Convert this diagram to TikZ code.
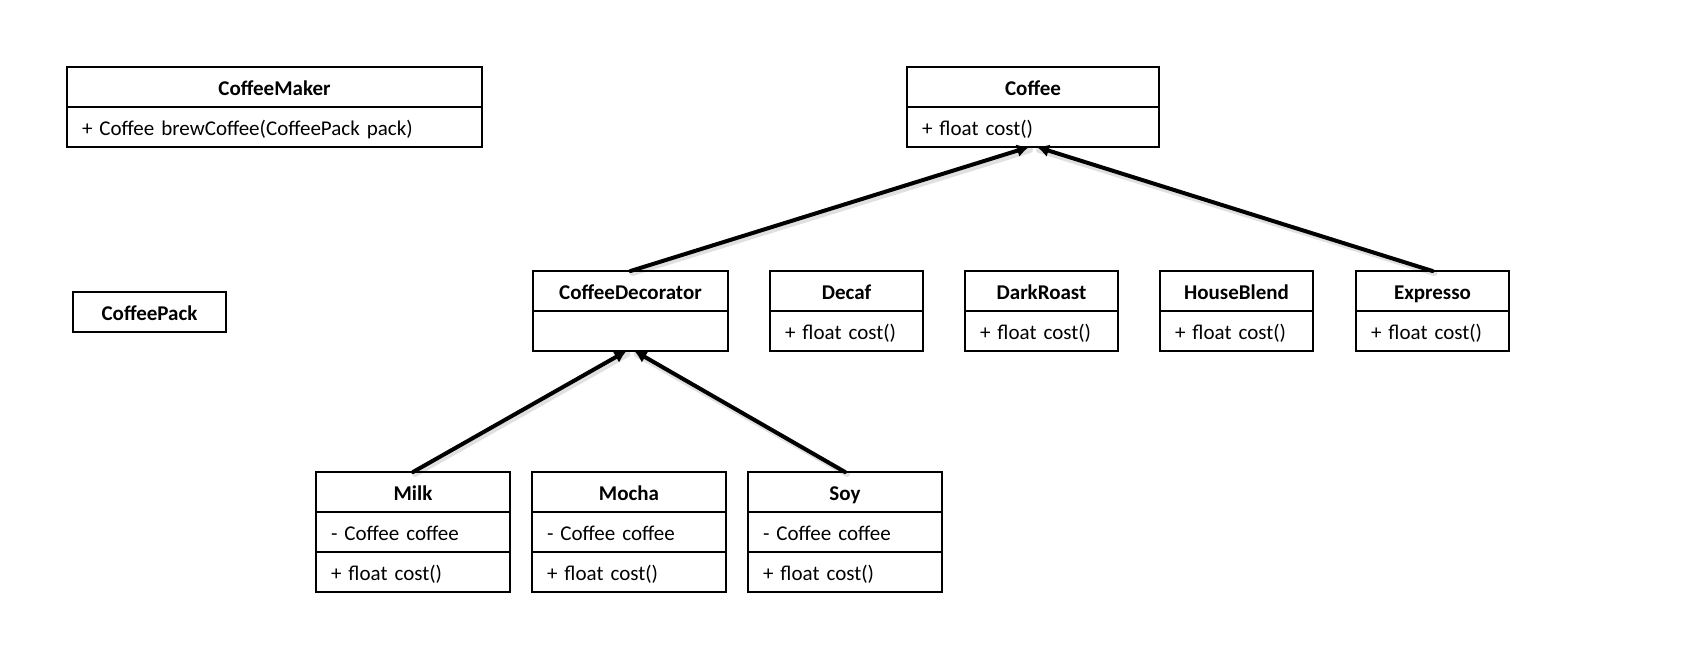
\documentclass[tikz,border=0pt]{standalone}
\usepackage{fontspec}
\setmainfont{Carlito}
\usetikzlibrary{arrows.meta}
\begin{document}
\begin{tikzpicture}[x=1pt,y=-1pt,
  box/.style={draw, line width=1.9pt, inner sep=0pt, outer sep=0pt,
    minimum height=40pt, text height=18pt, text depth=2pt, anchor=north west},
  classname/.style={box, font=\fontsize{21}{24}\selectfont\bfseries, align=center},
  member/.style={box, font=\fontsize{21}{24}\selectfont, align=left, inner xsep=15pt},
  inherit/.style={line width=4pt, line cap=round, -{Latex[length=12pt,width=13pt]}},
  arrowshadow/.style={line width=6pt, black, opacity=0.12, line cap=round},
]
\useasboundingbox (0,0) rectangle (1702,654);

% CoffeeMaker
\node[classname, minimum width=415pt] (maker) at (67,67) {CoffeeMaker};
\node[member, text width=385pt] (makerOps) at (maker.south west) {+ Coffee brewCoffee(CoffeePack pack)};

% Coffee
\node[classname, minimum width=252pt] (coffee) at (907,67) {Coffee};
\node[member, text width=222pt] (coffeeOps) at (coffee.south west) {+ float cost()};

% CoffeePack
\node[classname, minimum width=153pt] (pack) at (73,292) {CoffeePack};

% CoffeeDecorator
\node[classname, minimum width=195pt] (deco) at (533,271) {CoffeeDecorator};
\node[member, text width=165pt] (decoOps) at (deco.south west) {};

% concrete coffees
\node[classname, minimum width=153pt] (decaf) at (770,271) {Decaf};
\node[member, text width=123pt] (decafOps) at (decaf.south west) {+ float cost()};
\node[classname, minimum width=153pt] (dark) at (965,271) {DarkRoast};
\node[member, text width=123pt] (darkOps) at (dark.south west) {+ float cost()};
\node[classname, minimum width=153pt] (house) at (1160,271) {HouseBlend};
\node[member, text width=123pt] (houseOps) at (house.south west) {+ float cost()};
\node[classname, minimum width=153pt] (expr) at (1356,271) {Expresso};
\node[member, text width=123pt] (exprOps) at (expr.south west) {+ float cost()};

% decorators
\node[classname, minimum width=194pt] (milk) at (316,472) {Milk};
\node[member, text width=164pt] (milkAttr) at (milk.south west) {- Coffee coffee};
\node[member, text width=164pt] (milkOps) at (milkAttr.south west) {+ float cost()};
\node[classname, minimum width=194pt] (mocha) at (532,472) {Mocha};
\node[member, text width=164pt] (mochaAttr) at (mocha.south west) {- Coffee coffee};
\node[member, text width=164pt] (mochaOps) at (mochaAttr.south west) {+ float cost()};
\node[classname, minimum width=194pt] (soy) at (748,472) {Soy};
\node[member, text width=164pt] (soyAttr) at (soy.south west) {- Coffee coffee};
\node[member, text width=164pt] (soyOps) at (soyAttr.south west) {+ float cost()};

% soft shadows under the inheritance lines
\draw[arrowshadow] ([shift={(2,2)}]deco.north) -- ([shift={(-3,3)}]coffeeOps.south);
\draw[arrowshadow] ([shift={(2,2)}]expr.north) -- ([shift={(6,3)}]coffeeOps.south);
\draw[arrowshadow] ([shift={(2,2)}]milk.north) -- ([shift={(-3,3)}]decoOps.south);
\draw[arrowshadow] ([shift={(2,2)}]soy.north) -- ([shift={(6,3)}]decoOps.south);

% inheritance
\draw[inherit] (deco.north) -- ([xshift=-4pt]coffeeOps.south);
\draw[inherit] (expr.north) -- ([xshift=4pt]coffeeOps.south);
\draw[inherit] (milk.north) -- ([xshift=-4pt]decoOps.south);
\draw[inherit] (soy.north) -- ([xshift=4pt]decoOps.south);
\end{tikzpicture}
\end{document}
